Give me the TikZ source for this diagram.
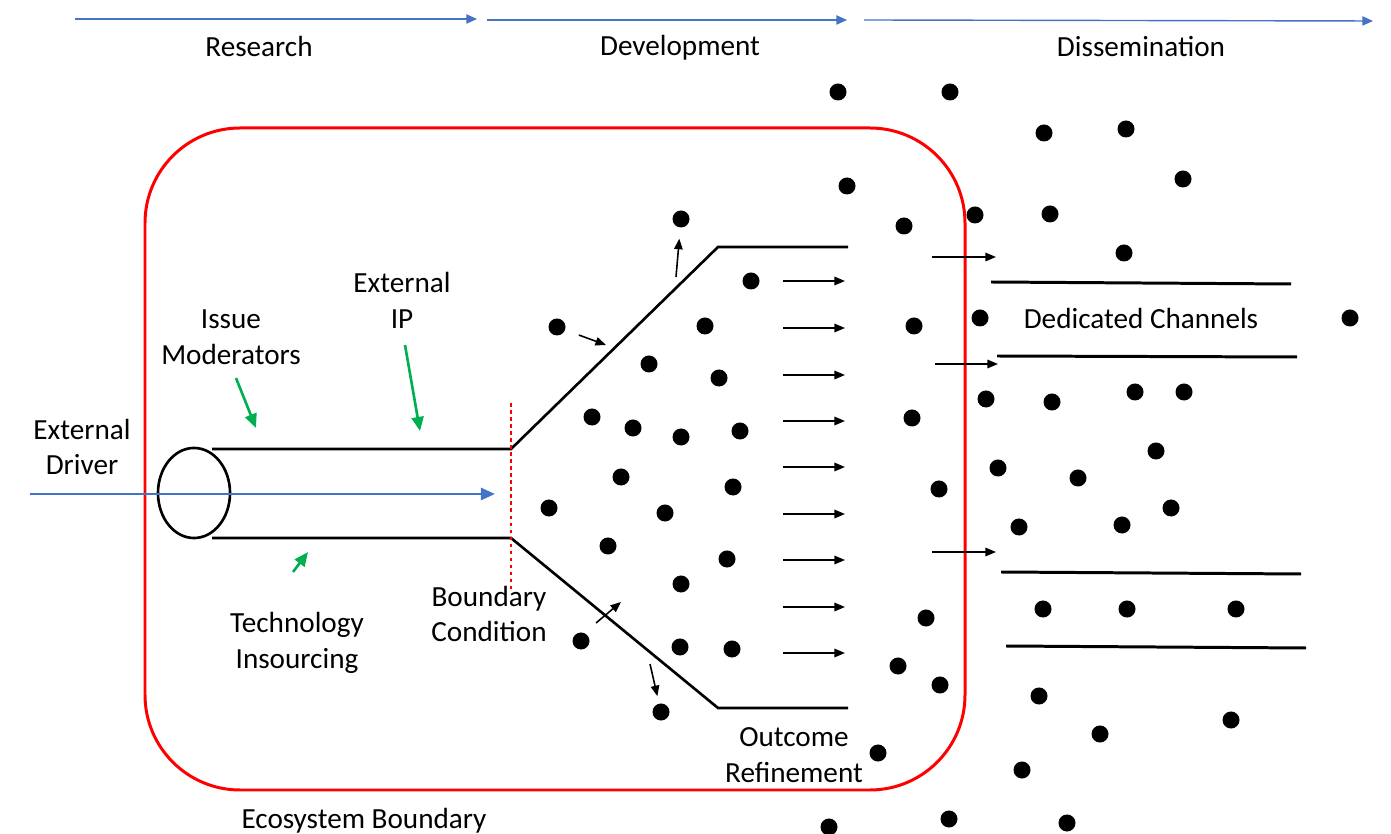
\documentclass[tikz,border=0pt]{standalone}
\usepackage{fontspec}
\setmainfont{Carlito}
\usetikzlibrary{arrows.meta,shapes.geometric}

\definecolor{phaseblue}{RGB}{68,114,196}
\definecolor{factorgreen}{RGB}{0,176,80}

\tikzset{
  lbl/.style={font=\fontsize{8.3}{10.2}\selectfont, align=center, inner sep=0pt},
  dot/.style={circle, fill=black, minimum size=0.17cm, inner sep=0pt},
  flow/.style={-{Triangle[length=3pt,width=2.4pt]}, line width=0.45pt},
  phase/.style={draw=phaseblue, line width=0.4pt, -{Triangle[length=3pt,width=2.6pt]}},
  factor/.style={draw=factorgreen, line width=0.75pt, -{Triangle[length=4pt,width=3.4pt]}},
  wall/.style={line width=0.75pt},
}

\begin{document}
\begin{tikzpicture}[x=0.01cm,y=-0.01cm]
    \useasboundingbox (0,0) rectangle (1391,834);

    % phases
    \coordinate (resA) at (75,19);   \coordinate (resB) at (477,19);
    \coordinate (devA) at (487,20);  \coordinate (devB) at (847,20);
    \coordinate (disA) at (864,20);  \coordinate (disB) at (1373,21);
    \draw[phase] (resA) -- (resB);
    \draw[phase] (devA) -- (devB);
    \draw[phase] (disA) -- (disB);
    \node[lbl] (research) at (259,46) {Research};
    \node[lbl] (development) at (680,48) {Development};
    \node[lbl] (dissemination) at (1141,47) {Dissemination};

    % ecosystem boundary
    \draw[red, line width=0.85pt, rounded corners=0.95cm] (145,128) rectangle (965,790);
    \node[lbl] (ecosystem) at (364,821) {Ecosystem Boundary};

    % tube and funnel
    \node[draw, ellipse, line width=0.75pt, minimum width=0.72cm, minimum height=0.9cm, inner sep=0pt] (driver) at (194,493) {};
    \coordinate (tubeT) at (212,449);  \coordinate (neckT) at (511,449);
    \coordinate (mouthT) at (718,247); \coordinate (lipT) at (848,247);
    \coordinate (tubeB) at (212,538);  \coordinate (neckB) at (511,538);
    \coordinate (mouthB) at (718,708); \coordinate (lipB) at (848,708);
    \draw[wall] (tubeT) -- (neckT) -- (mouthT) -- (lipT);
    \draw[wall] (tubeB) -- (neckB) -- (mouthB) -- (lipB);
    \coordinate (condT) at (511,403);  \coordinate (condB) at (511,592);
    \draw[red, line width=0.3pt, dash pattern=on 1pt off 1pt] (condT) -- (condB);

    \node[lbl] (extdriver) at (82,447) {External\\Driver};
    \coordinate (drvIn) at (30,494);   \coordinate (drvOut) at (495,494);
    \draw[phase, line width=0.75pt, -{Triangle[length=4pt,width=3.4pt]}] (drvIn) -- (drvOut);

    % factors
    \node[lbl] (issue) at (231,337) {Issue\\Moderators};
    \node[lbl] (extip) at (402,300) {External\\IP};
    \node[lbl] (insourcing) at (297,643) {Technology\\Insourcing};
    \node[lbl] (boundary) at (489,614) {Boundary\\Condition};
    \node[lbl] (outcome) at (794,755) {Outcome\\Refinement};
    \coordinate (issueA) at (236,378); \coordinate (issueB) at (256,428);
    \coordinate (ipA) at (405,345);    \coordinate (ipB) at (420,431);
    \coordinate (techA) at (293,572);  \coordinate (techB) at (308,552);
    \draw[factor] (issueA) -- (issueB);
    \draw[factor] (ipA) -- (ipB);
    \draw[factor] (techA) -- (techB);

    % refinement flow
    \foreach \y [count=\i] in {281,328,375,421,467,514,560,607,653} {
        \coordinate (fa\i) at (783,\y);
        \coordinate (fb\i) at (845,\y);
        \draw[flow] (fa\i) -- (fb\i);
    }

    % escaping and entering items
    \node[dot] (upDot) at (681,219) {};
    \node[dot] (inDot) at (557,327) {};
    \node[dot] (crossDot) at (581,641) {};
    \node[dot] (downDot) at (661,712) {};
    \coordinate (upTail) at (676,277);
    \coordinate (inTip) at (606,345);
    \coordinate (crossA) at (596,623); \coordinate (crossB) at (621,602);
    \coordinate (downTail) at (650,664);
    \draw[flow, shorten >=3pt] (upTail) -- (upDot);
    \draw[flow, shorten <=4pt] (inDot) -- (inTip);
    \draw[flow] (crossA) -- (crossB);
    \draw[flow, shorten >=2pt] (downTail) -- (downDot);

    % dedicated channels
    \coordinate (chA1) at (991,282);  \coordinate (chB1) at (1291,284);
    \coordinate (chA2) at (997,356);  \coordinate (chB2) at (1297,357);
    \coordinate (chA3) at (1001,572); \coordinate (chB3) at (1301,574);
    \coordinate (chA4) at (1006,646); \coordinate (chB4) at (1306,648);
    \foreach \i in {1,...,4} \draw[wall, line width=0.85pt] (chA\i) -- (chB\i);
    \node[lbl] (channels) at (1141,318) {Dedicated Channels};
    \coordinate (exA1) at (932,257);  \coordinate (exB1) at (996,257);
    \coordinate (exA2) at (935,364);  \coordinate (exB2) at (998,364);
    \coordinate (exA3) at (932,552);  \coordinate (exB3) at (996,552);
    \foreach \i in {1,2,3} \draw[flow] (exA\i) -- (exB\i);

    % scattered items
    \foreach \x/\y [count=\i] in {
        838/92, 950/92, 1044/133, 1126/129, 1183/179, 847/186, 904/226,
        975/215, 1050/214, 1124/253, 751/281, 705/326, 649/364, 719/378,
        914/326, 980/318, 1350/318, 592/417, 633/428, 681/437, 740/431,
        912/418, 986/399, 1052/402, 1135/392, 1184/392, 1156/451, 998/468,
        1078/478, 621/477, 733/487, 939/489, 549/508, 665/513, 1019/527,
        1122/525, 1171/508, 608/546, 727/559, 681/584, 1043/609, 1127/609,
        1236/609, 926/618, 680/647, 732/649, 898/666, 940/685, 1039/696,
        1231/720, 1100/734, 878/753, 1022/770, 829/827, 949/819, 1067/823}
        \node[dot] (item\i) at (\x,\y) {};
\end{tikzpicture}
\end{document}
